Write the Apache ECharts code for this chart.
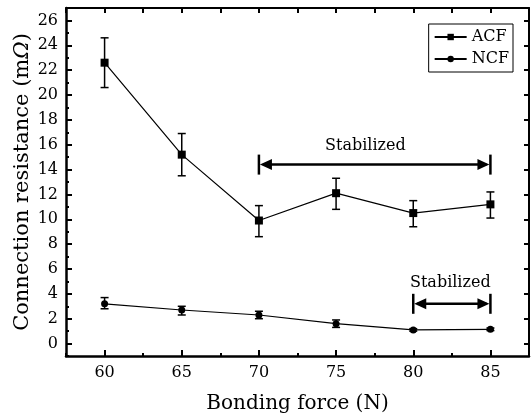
<!DOCTYPE html>
<html>
  <head>
    <meta charset="utf-8" />
    <title>ECharts</title>
    <script src="https://cdn.jsdelivr.net/npm/echarts@6.0.0/dist/echarts.min.js"></script>
    <style>
      html, body { margin: 0; padding: 0; background: #fff; }
    </style>
  </head>
  <body>
    <div id="main" style="width: 532px; height: 414px"></div>
    <script type="text/javascript">
      var myChart = echarts.init(document.getElementById("main"));

      // data
      var forces = [60, 65, 70, 75, 80, 85];
      var acf = [22.6, 15.2, 9.9, 12.1, 10.5, 11.2];
      var acfLow = [20.6, 13.5, 8.6, 10.8, 9.4, 10.1];
      var acfHigh = [24.6, 16.9, 11.1, 13.3, 11.5, 12.2];
      var ncf = [3.2, 2.7, 2.3, 1.6, 1.1, 1.15];
      var ncfLow = [2.8, 2.3, 2.0, 1.3, 1.0, 1.05];
      var ncfHigh = [3.7, 3.0, 2.6, 1.9, 1.2, 1.25];
      // [from, to, level, label x, label level, text]
      var spans = [
        [70, 85, 14.4, 76.9, 15.9, "Stabilized"],
        [80, 85, 3.2, 82.4, 4.9, "Stabilized"],
      ];
      var xLabels = [60, 65, 70, 75, 80, 85];
      var xMinor = [57.5, 62.5, 67.5, 72.5, 77.5, 82.5, 87.5];
      var yLabels = [0, 2, 4, 6, 8, 10, 12, 14, 16, 18, 20, 22, 24, 26];
      var yMinor = [-1, 1, 3, 5, 7, 9, 11, 13, 15, 17, 19, 21, 23, 25, 27];

      var font = "DejaVu Serif";

      function pairs(xs, ys) {
        return xs.map(function (x, i) { return [x, ys[i]]; });
      }
      function errData(lo, hi) {
        return forces.map(function (x, i) { return [x, lo[i], hi[i]]; });
      }

      function renderErr(params, api) {
        var x = api.value(0);
        var a = api.coord([x, api.value(1)]);
        var b = api.coord([x, api.value(2)]);
        var w = 4;
        var st = { stroke: "#000", lineWidth: 1.5 };
        return {
          type: "group",
          children: [
            { type: "line", shape: { x1: a[0], y1: a[1], x2: b[0], y2: b[1] }, style: st },
            { type: "line", shape: { x1: a[0] - w, y1: a[1], x2: a[0] + w, y2: a[1] }, style: st },
            { type: "line", shape: { x1: b[0] - w, y1: b[1], x2: b[0] + w, y2: b[1] }, style: st },
          ],
        };
      }

      function renderSpan(params, api) {
        var p1 = api.coord([api.value(0), api.value(2)]);
        var p2 = api.coord([api.value(1), api.value(2)]);
        var t = api.coord([api.value(3), api.value(4)]);
        var y = p1[1];
        var st = { stroke: "#000", lineWidth: 2.5 };
        var h = 10, aw = 13, ah = 5.5;
        return {
          type: "group",
          children: [
            { type: "line", shape: { x1: p1[0] + 4, y1: y, x2: p2[0] - 4, y2: y }, style: st },
            { type: "line", shape: { x1: p1[0], y1: y - h, x2: p1[0], y2: y + h }, style: st },
            { type: "line", shape: { x1: p2[0], y1: y - h, x2: p2[0], y2: y + h }, style: st },
            { type: "polygon", shape: { points: [[p1[0] + 1, y], [p1[0] + aw, y - ah], [p1[0] + aw, y + ah]] }, style: { fill: "#000" } },
            { type: "polygon", shape: { points: [[p2[0] - 1, y], [p2[0] - aw, y - ah], [p2[0] - aw, y + ah]] }, style: { fill: "#000" } },
            {
              type: "text",
              x: t[0],
              y: t[1],
              style: {
                text: api.value(5),
                fontFamily: font,
                fontSize: 16,
                fill: "#000",
                align: "center",
                verticalAlign: "middle",
              },
            },
          ],
        };
      }

      var xBase = { type: "value", min: 57.5, max: 87.5, splitLine: { show: false } };
      var yBase = { type: "value", min: -1, max: 27, splitLine: { show: false } };
      var frameLine = { show: true, onZero: false, lineStyle: { color: "#000", width: 2 } };

      var option = {
        backgroundColor: "#fff",
        animation: false,
        grid: { left: 66, right: 3, top: 8, bottom: 58, outerBoundsMode: "none" },
        legend: {
          data: ["ACF", "NCF"],
          orient: "vertical",
          right: 19,
          top: 24,
          padding: [5, 4, 5, 5],
          itemGap: 6,
          itemWidth: 32,
          itemHeight: 8,
          borderColor: "#000",
          borderWidth: 1,
          textStyle: { fontFamily: font, fontSize: 16, color: "#000" },
        },
        xAxis: [
          Object.assign({}, xBase, {
            position: "bottom",
            name: "Bonding force (N)",
            nameLocation: "middle",
            nameGap: 38,
            nameTextStyle: { fontFamily: font, fontSize: 20, color: "#000" },
            axisLine: { show: true, onZero: false, lineStyle: { color: "#000", width: 2.5 } },
            axisTick: { show: true, inside: true, length: 6, lineStyle: { color: "#000", width: 2 }, customValues: xLabels },
            axisLabel: { show: true, margin: 9, customValues: xLabels, fontFamily: font, fontSize: 16, color: "#000" },
          }),
          Object.assign({}, xBase, {
            position: "bottom",
            axisLine: { show: false, onZero: false },
            axisTick: { show: true, inside: true, length: 3, lineStyle: { color: "#000", width: 2 }, customValues: xMinor },
            axisLabel: { show: false },
          }),
          Object.assign({}, xBase, {
            position: "top",
            axisLine: frameLine,
            axisTick: { show: true, inside: true, length: 5, lineStyle: { color: "#000", width: 2 }, customValues: xLabels.concat(xMinor) },
            axisLabel: { show: false },
          }),
        ],
        yAxis: [
          Object.assign({}, yBase, {
            position: "left",
            name: "Connection resistance (m{i|Ω})",
            nameLocation: "middle",
            nameGap: 33,
            nameMoveOverlap: false,
            nameRotate: 90,
            nameTextStyle: {
              fontFamily: font,
              fontSize: 21,
              color: "#000",
              rich: { i: { fontFamily: font, fontSize: 21, fontStyle: "italic", color: "#000" } },
            },
            axisLine: { show: true, onZero: false, lineStyle: { color: "#000", width: 2.5 } },
            axisTick: { show: true, inside: true, length: 6, lineStyle: { color: "#000", width: 2 }, customValues: yLabels },
            axisLabel: { show: true, margin: 8, customValues: yLabels, fontFamily: font, fontSize: 16, color: "#000" },
          }),
          Object.assign({}, yBase, {
            position: "left",
            offset: 0,
            axisLine: { show: false, onZero: false },
            axisTick: { show: true, inside: true, length: 3, lineStyle: { color: "#000", width: 2 }, customValues: yMinor },
            axisLabel: { show: false },
          }),
          Object.assign({}, yBase, {
            position: "right",
            axisLine: frameLine,
            axisTick: { show: true, inside: true, length: 5, lineStyle: { color: "#000", width: 2 }, customValues: yLabels },
            axisLabel: { show: false },
          }),
        ],
        series: [
          {
            name: "ACF",
            type: "line",
            data: pairs(forces, acf),
            symbol: "rect",
            symbolSize: 8,
            lineStyle: { color: "#000", width: 1.2 },
            itemStyle: { color: "#000" },
            z: 3,
          },
          {
            name: "NCF",
            type: "line",
            data: pairs(forces, ncf),
            symbol: "circle",
            symbolSize: 7,
            lineStyle: { color: "#000", width: 1.2 },
            itemStyle: { color: "#000" },
            z: 3,
          },
          { type: "custom", renderItem: renderErr, data: errData(acfLow, acfHigh), z: 2, silent: true },
          { type: "custom", renderItem: renderErr, data: errData(ncfLow, ncfHigh), z: 2, silent: true },
          { type: "custom", renderItem: renderSpan, data: spans, z: 4, silent: true },
        ],
      };
      myChart.setOption(option);
    </script>
  </body>
</html>
